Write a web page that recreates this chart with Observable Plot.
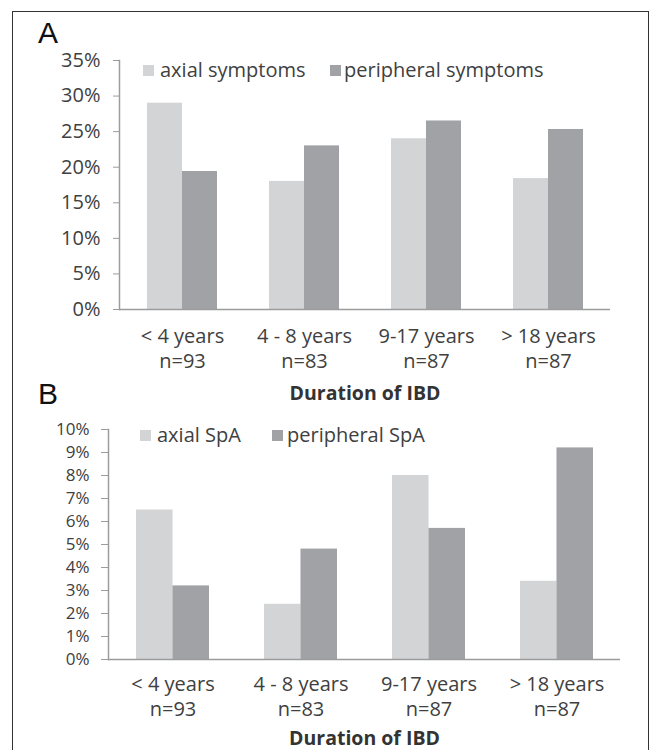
<!DOCTYPE html>
<html>
<head>
<meta charset="utf-8">
<script src="https://cdn.jsdelivr.net/npm/d3@7"></script>
<script src="https://cdn.jsdelivr.net/npm/@observablehq/plot@0.6"></script>
<style>
  html, body { margin: 0; padding: 0; background: #fff; }
  #page { position: relative; width: 658px; height: 750px; overflow: hidden; font-family: "Open Sans", sans-serif; color: #404040; }
  #border { position: absolute; left: 12px; top: 11px; width: 637px; height: 760px; border: 1.5px solid #333; box-sizing: border-box; }
  .panel { position: absolute; left: 0; }
  .letter { position: absolute; font-family: "Liberation Sans", Arial, sans-serif; font-size: 30px; color: #111; line-height: 1; }
  .legend { position: absolute; font-size: 20px; line-height: 1; white-space: nowrap; color: #404040; }
  .sw { position: absolute; width: 11px; height: 11px; }
</style>
</head>
<body>
<div id="page">
  <div id="border"></div>
  <div id="panelA" class="panel" style="top:40px"></div>
  <div id="panelB" class="panel" style="top:410px"></div>
  <div class="letter" style="left:38px; top:18px">A</div>
  <div class="letter" style="left:38px; top:379px">B</div>
  <div id="legA"></div>
  <div id="legB"></div>
</div>
<script>
// ---- data ----
const categories = ["< 4 years", "4 - 8 years", "9-17 years", "> 18 years"];
const nLabels = ["n=93", "n=83", "n=87", "n=87"];
const axialSymptoms = [29.0, 18.0, 24.0, 18.4];
const peripheralSymptoms = [19.4, 23.0, 26.5, 25.3];
const axialSpA = [6.5, 2.4, 8.0, 3.4];
const peripheralSpA = [3.2, 4.8, 5.7, 9.2];
const yTicksA = [0, 5, 10, 15, 20, 25, 30, 35];
const yTicksB = [0, 1, 2, 3, 4, 5, 6, 7, 8, 9, 10];
const seriesNamesA = ["axial symptoms", "peripheral symptoms"];
const seriesNamesB = ["axial SpA", "peripheral SpA"];
const xTitle = "Duration of IBD";

const lightFill = "#d3d4d6";
const darkFill = "#a1a2a5";
const axisGray = "#9c9c9c";
const textGray = "#404040";

function panel({axial, peripheral, yTicks, yMax, height, mt, mb, ml, mr, tickSize, tickPad, yFont, xPad, titleDy, lineH}) {
  const width = 658;
  const rows = categories.map((c, i) => ({cat: c, axial: axial[i], peripheral: peripheral[i]}));
  const pi = 0.43;
  const step = (width - ml - mr) / categories.length;
  const half = step * (1 - pi) / 2;
  return Plot.plot({
    width, height,
    marginTop: mt, marginBottom: mb, marginLeft: ml, marginRight: mr,
    style: {fontFamily: "Open Sans", fontSize: "20px", color: textGray, background: "transparent"},
    x: {domain: categories, paddingInner: pi, paddingOuter: pi / 2, axis: null},
    y: {domain: [0, yMax], axis: null},
    marks: [
      Plot.barY(rows, {x: "cat", y: "axial", fill: lightFill, insetLeft: 0, insetRight: half}),
      Plot.barY(rows, {x: "cat", y: "peripheral", fill: darkFill, insetLeft: half, insetRight: 0}),
      Plot.frame({anchor: "left", stroke: axisGray, strokeWidth: 1.5}),
      Plot.ruleY([0], {stroke: axisGray, strokeWidth: 1.5}),
      Plot.axisY({ticks: yTicks, tickFormat: d => d + "%", tickSize: tickSize, tickPadding: tickPad, stroke: axisGray, fill: textGray, fontSize: yFont, label: null}),
      Plot.axisX({tickFormat: (d, i) => d + "\n" + nLabels[i], tickSize: 0, tickPadding: xPad, fill: textGray, fontSize: 20, lineHeight: lineH, label: null}),
      Plot.text([xTitle], {text: d => d, frameAnchor: "bottom", dy: titleDy, fontWeight: "bold", fontSize: 19.5, fill: "#333", lineAnchor: "middle"})
    ]
  });
}

document.getElementById("panelA").appendChild(panel({
  axial: axialSymptoms, peripheral: peripheralSymptoms, yTicks: yTicksA, yMax: 35,
  height: 370, mt: 20, mb: 101, ml: 119, mr: 48, tickSize: 6, tickPad: 13, yFont: 20, xPad: 16, titleDy: 84, lineH: 1.25
}));
document.getElementById("panelB").appendChild(panel({
  axial: axialSpA, peripheral: peripheralSpA, yTicks: yTicksB, yMax: 10,
  height: 340, mt: 19, mb: 91, ml: 108, mr: 38, tickSize: 7, tickPad: 12, yFont: 17, xPad: 14, titleDy: 79, lineH: 1.25
}));

function legend(el, names, items) {
  items.forEach((it, i) => {
    const s = document.createElement("div");
    s.className = "sw";
    s.style.left = it.sx + "px"; s.style.top = it.sy + "px";
    s.style.background = i === 0 ? lightFill : darkFill;
    el.appendChild(s);
    const t = document.createElement("div");
    t.className = "legend";
    t.style.left = it.tx + "px"; t.style.top = it.ty + "px";
    t.textContent = names[i];
    el.appendChild(t);
  });
}
legend(document.getElementById("legA"), seriesNamesA, [
  {sx: 143, sy: 65, tx: 160, ty: 60},
  {sx: 330, sy: 65, tx: 344, ty: 60}
]);
legend(document.getElementById("legB"), seriesNamesB, [
  {sx: 140, sy: 430, tx: 157, ty: 425},
  {sx: 272, sy: 430, tx: 287, ty: 425}
]);
</script>
</body>
</html>
